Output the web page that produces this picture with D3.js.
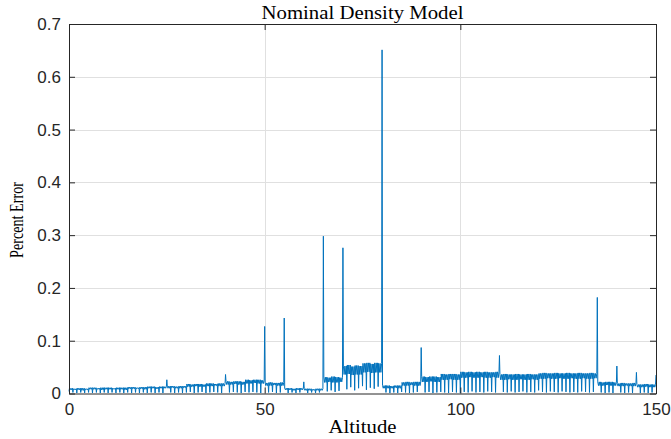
<!DOCTYPE html>
<html>
<head>
<meta charset="utf-8">
<script src="https://cdn.jsdelivr.net/npm/d3@7"></script>
<style>
  body { margin: 0; background: #fff; }
  svg { display: block; }
</style>
</head>
<body>
<div id="chart"></div>
<script>
// percent error of the nominal density model, sampled per km of altitude
// node values sit on whole km (table points), band values are the spread inside each km
var nodeError = [
  0.004, 0.002, 0.001, 0.002, 0.001, 0.002, 0.001, 0.002, 0.001, 0.002,
  0.001, 0.002, 0.001, 0.002, 0.001, 0.002, 0.001, 0.002, 0.001, 0.002,
  0.001, 0.002, 0.001, 0.002, 0.001, 0.026, 0.002, 0.001, 0.002, 0.001,
  0.002, 0.003, 0.001, 0.002, 0.003, 0.001, 0.002, 0.003, 0.002, 0.001,
  0.036, 0.002, 0.003, 0.002, 0.001, 0.003, 0.002, 0.003, 0.002, 0.001,
  0.127, 0.002, 0.003, 0.001, 0.002, 0.143, 0.001, 0.002, 0.001, 0.002,
  0.022, 0.001, 0.002, 0.001, 0.002, 0.298, 0.004, 0.006, 0.003, 0.005,
  0.276, 0.008, 0.012, 0.006, 0.010, 0.014, 0.007, 0.011, 0.009, 0.013,
  0.651, 0.002, 0.001, 0.002, 0.001, 0.003, 0.002, 0.001, 0.002, 0.003,
  0.087, 0.002, 0.003, 0.001, 0.002, 0.003, 0.002, 0.001, 0.003, 0.002,
  0.001, 0.003, 0.002, 0.004, 0.002, 0.003, 0.002, 0.004, 0.003, 0.002,
  0.072, 0.003, 0.002, 0.004, 0.002, 0.003, 0.004, 0.002, 0.003, 0.002,
  0.006, 0.003, 0.002, 0.004, 0.003, 0.002, 0.004, 0.003, 0.002, 0.003,
  0.002, 0.004, 0.003, 0.002, 0.003, 0.182, 0.002, 0.001, 0.002, 0.001,
  0.052, 0.002, 0.001, 0.002, 0.001, 0.040, 0.001, 0.002, 0.001, 0.002,
  0.035
];

var bandHigh = [
  0.010, 0.009, 0.010, 0.010, 0.009, 0.011, 0.011, 0.010, 0.011, 0.011,
  0.011, 0.010, 0.011, 0.011, 0.011, 0.012, 0.012, 0.011, 0.012, 0.012,
  0.013, 0.013, 0.012, 0.013, 0.013, 0.014, 0.014, 0.013, 0.014, 0.014,
  0.018, 0.017, 0.018, 0.018, 0.017, 0.019, 0.019, 0.018, 0.019, 0.019,
  0.023, 0.022, 0.023, 0.023, 0.022, 0.026, 0.025, 0.026, 0.026, 0.025,
  0.020, 0.021, 0.020, 0.020, 0.021, 0.010, 0.010, 0.009, 0.010, 0.010,
  0.009, 0.009, 0.008, 0.009, 0.009, 0.031, 0.030, 0.032, 0.031, 0.030,
  0.052, 0.054, 0.051, 0.053, 0.052, 0.057, 0.058, 0.056, 0.058, 0.057,
  0.015, 0.015, 0.014, 0.015, 0.015, 0.021, 0.022, 0.021, 0.022, 0.022,
  0.032, 0.031, 0.032, 0.032, 0.031, 0.037, 0.036, 0.037, 0.037, 0.036,
  0.041, 0.040, 0.041, 0.040, 0.041, 0.040, 0.041, 0.040, 0.040, 0.041,
  0.036, 0.037, 0.036, 0.036, 0.037, 0.036, 0.036, 0.037, 0.036, 0.036,
  0.038, 0.039, 0.038, 0.038, 0.039, 0.038, 0.038, 0.039, 0.038, 0.038,
  0.039, 0.038, 0.038, 0.039, 0.038, 0.022, 0.021, 0.022, 0.022, 0.021,
  0.019, 0.020, 0.019, 0.019, 0.020, 0.017, 0.017, 0.018, 0.017, 0.017
];

var bandLow = [
  0.007, 0.007, 0.007, 0.006, 0.007, 0.008, 0.008, 0.008, 0.007, 0.008,
  0.008, 0.008, 0.008, 0.008, 0.007, 0.009, 0.009, 0.009, 0.009, 0.008,
  0.010, 0.010, 0.009, 0.010, 0.010, 0.010, 0.011, 0.010, 0.010, 0.011,
  0.013, 0.013, 0.014, 0.013, 0.013, 0.014, 0.014, 0.015, 0.014, 0.014,
  0.017, 0.017, 0.018, 0.017, 0.017, 0.019, 0.019, 0.020, 0.019, 0.019,
  0.015, 0.015, 0.016, 0.015, 0.015, 0.007, 0.007, 0.006, 0.007, 0.007,
  0.006, 0.006, 0.006, 0.006, 0.006, 0.021, 0.022, 0.021, 0.021, 0.022,
  0.036, 0.037, 0.035, 0.036, 0.036, 0.040, 0.041, 0.039, 0.040, 0.040,
  0.010, 0.010, 0.010, 0.011, 0.010, 0.015, 0.015, 0.016, 0.015, 0.015,
  0.022, 0.022, 0.023, 0.022, 0.022, 0.026, 0.026, 0.027, 0.026, 0.026,
  0.030, 0.030, 0.031, 0.030, 0.030, 0.031, 0.030, 0.030, 0.031, 0.030,
  0.026, 0.026, 0.027, 0.026, 0.026, 0.027, 0.026, 0.026, 0.027, 0.026,
  0.028, 0.028, 0.029, 0.028, 0.028, 0.029, 0.028, 0.028, 0.029, 0.028,
  0.028, 0.029, 0.028, 0.028, 0.029, 0.015, 0.015, 0.016, 0.015, 0.015,
  0.014, 0.014, 0.015, 0.014, 0.014, 0.012, 0.012, 0.013, 0.012, 0.012
];

var xTicks = [0, 50, 100, 150];
var yTicks = [0, 0.1, 0.2, 0.3, 0.4, 0.5, 0.6, 0.7];

var width = 671, height = 439;
var margin = {top: 24, right: 15, bottom: 45.5, left: 69};
var plotW = width - margin.left - margin.right,
    plotH = height - margin.top - margin.bottom;

var axisColor = "#262626";
var lineColor = "#0072BD";

var x = d3.scaleLinear().domain([0, 150]).range([0, plotW]);
var y = d3.scaleLinear().domain([0, 0.7]).range([plotH, 0]);

// every km: node value, then the band swings high/low before the next node
var points = [];
nodeError.forEach(function (v, i) {
    points.push([i, v]);
    if (i < bandHigh.length) {
        points.push([i + 0.12, bandHigh[i]]);
        points.push([i + 0.3, bandLow[i]]);
        points.push([i + 0.5, bandHigh[i]]);
        points.push([i + 0.7, bandLow[i]]);
        points.push([i + 0.88, bandHigh[i]]);
    }
});

var svg = d3.select("#chart").append("svg")
    .attr("width", width)
    .attr("height", height);

var g = svg.append("g")
    .attr("transform", "translate(" + margin.left + "," + margin.top + ")");

// grid
var grid = g.append("g").attr("class", "grid")
    .attr("stroke", "#e0e0e0")
    .attr("stroke-width", 1);

grid.selectAll(".gx")
    .data(xTicks.slice(1, -1))
    .enter().append("line")
    .attr("x1", function (d) { return Math.round(x(d)) + 0.5; })
    .attr("x2", function (d) { return Math.round(x(d)) + 0.5; })
    .attr("y1", 0)
    .attr("y2", plotH);

grid.selectAll(".gy")
    .data(yTicks.slice(1, -1))
    .enter().append("line")
    .attr("x1", 0)
    .attr("x2", plotW)
    .attr("y1", function (d) { return Math.round(y(d)) + 0.5; })
    .attr("y2", function (d) { return Math.round(y(d)) + 0.5; });

// data line
var line = d3.line()
    .x(function (d) { return x(d[0]); })
    .y(function (d) { return y(d[1]); });

g.append("path")
    .datum(points)
    .attr("fill", "none")
    .attr("stroke", lineColor)
    .attr("stroke-width", 1)
    .attr("stroke-linejoin", "round")
    .attr("d", line);

// axes box with inward ticks on all four sides
function styleAxis(sel) {
    sel.select(".domain").attr("stroke", axisColor).attr("stroke-width", 1);
    sel.selectAll(".tick line").attr("stroke", axisColor);
    sel.selectAll(".tick text")
        .attr("fill", axisColor)
        .style("font-family", "'Liberation Sans', Arial, sans-serif")
        .style("font-size", "17px");
}

g.append("g")
    .attr("transform", "translate(0," + plotH + ")")
    .call(d3.axisBottom(x).tickValues(xTicks).tickSizeInner(-6).tickSizeOuter(0).tickPadding(9)
        .tickFormat(d3.format("d")))
    .call(styleAxis);

g.append("g")
    .call(d3.axisTop(x).tickValues(xTicks).tickSizeInner(-6).tickSizeOuter(0).tickFormat(""))
    .call(styleAxis);

g.append("g")
    .call(d3.axisLeft(y).tickValues(yTicks).tickSizeInner(-6).tickSizeOuter(0).tickPadding(8)
        .tickFormat(function (d) { return d === 0 ? "0" : d3.format(".1f")(d); }))
    .call(styleAxis);

g.append("g")
    .attr("transform", "translate(" + plotW + ",0)")
    .call(d3.axisRight(y).tickValues(yTicks).tickSizeInner(-6).tickSizeOuter(0).tickFormat(""))
    .call(styleAxis);

g.selectAll(".domain").attr("fill", "none");

// title and axis labels
var serif = "'Liberation Serif', 'Times New Roman', serif";

svg.append("text")
    .attr("x", margin.left + plotW / 2)
    .attr("y", 19)
    .attr("text-anchor", "middle")
    .attr("fill", "#000")
    .style("font-family", serif)
    .style("font-size", "19px")
    .attr("textLength", 202)
    .attr("lengthAdjust", "spacingAndGlyphs")
    .text("Nominal Density Model");

svg.append("text")
    .attr("x", margin.left + plotW / 2)
    .attr("y", 433)
    .attr("text-anchor", "middle")
    .attr("fill", "#000")
    .style("font-family", serif)
    .style("font-size", "18px")
    .attr("textLength", 68)
    .attr("lengthAdjust", "spacingAndGlyphs")
    .text("Altitude");

svg.append("text")
    .attr("transform", "translate(23,220) rotate(-90)")
    .attr("text-anchor", "middle")
    .attr("fill", "#000")
    .style("font-family", serif)
    .style("font-size", "19px")
    .attr("textLength", 76)
    .attr("lengthAdjust", "spacingAndGlyphs")
    .text("Percent Error");
</script>
</body>
</html>
